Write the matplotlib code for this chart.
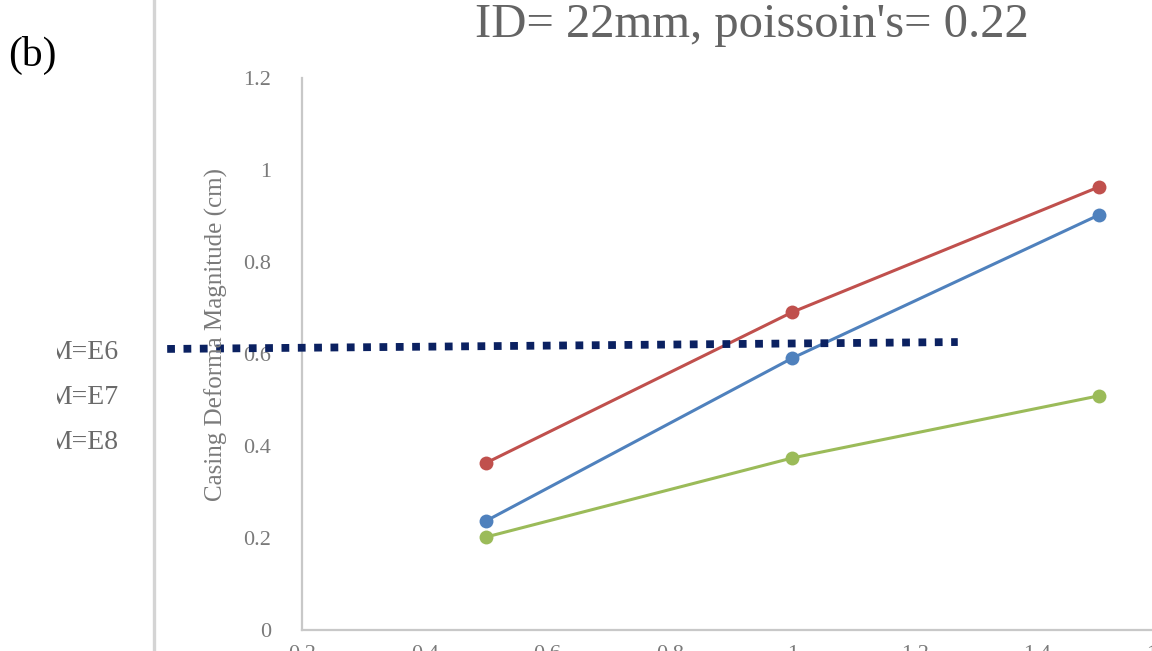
import matplotlib
matplotlib.use("Agg")
import matplotlib.pyplot as plt
from matplotlib.lines import Line2D
from matplotlib.patches import Rectangle

# ---- data -------------------------------------------------------------
x_vals = [0.5, 1.0, 1.5]
series_red = [0.363, 0.691, 0.963]
series_blue = [0.237, 0.591, 0.902]
series_green = [0.202, 0.374, 0.509]

y_ticks = [0, 0.2, 0.4, 0.6, 0.8, 1.0, 1.2]
y_tick_labels = ["0", "0.2", "0.4", "0.6", "0.8", "1", "1.2"]
x_ticks = [0.2, 0.4, 0.6, 0.8, 1.0, 1.2, 1.4, 1.6]
x_tick_labels = ["0.2", "0.4", "0.6", "0.8", "1", "1.2", "1.4", "1.6"]

legend_labels = ["M=E6", "M=E7", "M=E8"]
title_text = "ID= 22mm, poissoin's= 0.22"
ylabel_text = "Casing Deforma Magnitude (cm)"
panel_tag = "(b)"

# horizontal dotted guide (data coordinates)
guide_x = [-0.02, 1.27]
guide_y = [0.611, 0.626]

# ---- styling ------------------------------------------------------------
SERIF = ["Liberation Serif", "DejaVu Serif"]
RED, BLUE, GREEN = "#C0504D", "#4F81BD", "#9BBB59"
NAVY = "#0B2161"
AXIS_GREY = "#C8C8C8"
TEXT_GREY = "#7A7A7A"

W, H = 1152, 651
fig = plt.figure(figsize=(W / 100, H / 100), dpi=100)
fig.patch.set_facecolor("white")

ax = fig.add_axes([302 / W, 1 - 630 / H, 858 / W, 552 / H])
ax.set_xlim(0.2, 1.6)
ax.set_ylim(0, 1.2)

for ys, c in ((series_red, RED), (series_blue, BLUE), (series_green, GREEN)):
    ax.plot(x_vals, ys, color=c, lw=2.2, marker="o", markersize=10,
            markeredgewidth=0, clip_on=False, zorder=3)

ax.plot(guide_x, guide_y, color=NAVY, lw=5.6, linestyle=(0, (1.0, 1.1)),
        dash_capstyle="butt", solid_capstyle="butt", clip_on=False, zorder=5)

for side in ("top", "right"):
    ax.spines[side].set_visible(False)
for side in ("left", "bottom"):
    ax.spines[side].set_color(AXIS_GREY)
    ax.spines[side].set_linewidth(1.6)

ax.set_yticks(y_ticks)
ax.set_yticklabels(y_tick_labels, fontfamily=SERIF, fontsize=16, color=TEXT_GREY)
ax.set_xticks(x_ticks)
ax.set_xticklabels(x_tick_labels, fontfamily=SERIF, fontsize=16, color=TEXT_GREY)
ax.tick_params(axis="y", length=0, pad=22)
ax.tick_params(axis="x", length=0, pad=11)

# y-axis title
fig.text(216 / W, 1 - 335 / H, ylabel_text, rotation=90, ha="center", va="center",
         fontfamily=SERIF, fontsize=18, color=TEXT_GREY)

# chart title
fig.text(752 / W, 1 - 37 / H, title_text, ha="center", va="baseline",
         fontfamily=SERIF, fontsize=35, color="#646464")

# panel tag
fig.text(8 / W, 1 - 66 / H, panel_tag, ha="left", va="baseline",
         fontfamily=SERIF, fontsize=30, color="black")

# chart-area border on the left
fig.add_artist(Line2D([154 / W, 154 / W], [0, 1], transform=fig.transFigure,
                      color="#D4D4D4", lw=2.4))

# legend entries, cut off at the left by their frame
clip_rect = Rectangle((57 / W, 0), 1, 1, transform=fig.transFigure,
                      facecolor="none", edgecolor="none")
fig.add_artist(clip_rect)
for lab, yb in zip(legend_labels, (359, 404, 449)):
    t = fig.text(47 / W, 1 - yb / H, lab, ha="left", va="baseline",
                 fontfamily=SERIF, fontsize=20, color="#6A6A6A")
    t.set_clip_path(clip_rect)

fig.savefig("out.png", dpi=100, facecolor="white")
